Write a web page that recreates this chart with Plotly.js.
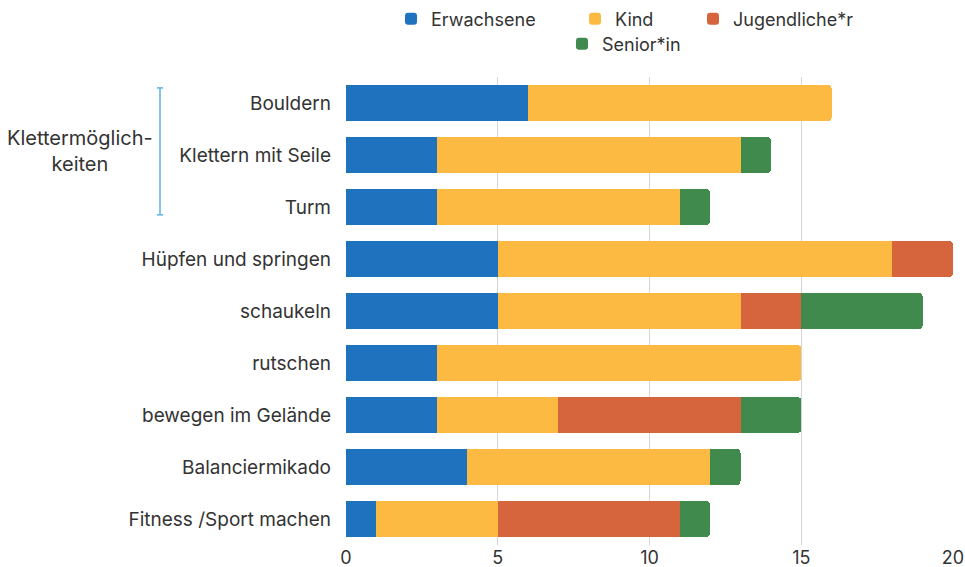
<!DOCTYPE html>
<html>
<head>
<meta charset="utf-8">
<script src="https://cdn.plot.ly/plotly-3.0.1.min.js"></script>
<style>html,body{margin:0;padding:0;background:#fff;}#chart{width:965px;height:567px;}</style>
</head>
<body>
<div id="chart"></div>
<script>
const categories = ["Bouldern", "Klettern mit Seile", "Turm", "Hüpfen und springen", "schaukeln", "rutschen", "bewegen im Gelände", "Balanciermikado", "Fitness /Sport machen"];
const erwachsene = [6, 3, 3, 5, 5, 3, 3, 4, 1];
const kind = [10, 10, 8, 13, 8, 12, 4, 8, 4];
const jugendliche = [0, 0, 0, 2, 2, 0, 6, 0, 6];
const senioren = [0, 1, 1, 0, 4, 0, 2, 1, 1];
const seriesNames = ["Erwachsene", "Kind", "Jugendliche*r", "Senior*in"];
const seriesColors = ["#1f73be", "#fdba42", "#d6643d", "#3f8a4c"];
const xTicks = [0, 5, 10, 15, 20];
const groupLabel = "Klettermöglich-<br>keiten";

const values = [erwachsene, kind, jugendliche, senioren];
const legendIds = ["legend", "legend2", "legend3", "legend4"];
const traces = values.map((v, i) => ({
  type: "bar",
  orientation: "h",
  name: seriesNames[i],
  x: v,
  y: categories,
  marker: {color: seriesColors[i], line: {width: 0}},
  legend: legendIds[i],
  hoverinfo: "x+name"
}));

const fam = "Inter, 'Noto Sans', sans-serif";
const font = {family: fam, size: 18, color: "#333"};
function leg(px, py) {
  return {xref: "container", yref: "container", x: px / 965, y: 1 - py / 567,
          xanchor: "left", yanchor: "middle", orientation: "h",
          bgcolor: "rgba(0,0,0,0)", font: {family: fam, size: 18, color: "#333"}, traceorder: "normal"};
}

const layout = {
  width: 965, height: 567,
  margin: {l: 346, r: 12, t: 77, b: 22, autoexpand: false},
  paper_bgcolor: "#fff", plot_bgcolor: "#fff",
  font: font,
  barmode: "stack",
  bargap: 0.31,
  barcornerradius: 4,
  xaxis: {range: [0, 20], tickvals: xTicks, showgrid: true, gridcolor: "#d6d6d6", gridwidth: 1,
          zeroline: false, showline: false, ticks: "", ticklabelstandoff: 0, automargin: false,
          tickfont: {family: fam, size: 18, color: "#333"}, fixedrange: true},
  yaxis: {autorange: "reversed", showgrid: false, zeroline: false, showline: false, ticks: "",
          ticklabelstandoff: 14, automargin: false,
          tickfont: {family: fam, size: 19, color: "#333"}},
  showlegend: true,
  legend: leg(391, 19),
  legend2: leg(575, 19),
  legend3: leg(693, 19),
  legend4: leg(562, 44),
  shapes: [
    {type: "line", xref: "paper", yref: "y", x0: (160 - 346) / 607, x1: (160 - 346) / 607, y0: -0.29, y1: 2.15,
     line: {color: "#5ab6e0", width: 1.5}},
    {type: "line", xref: "paper", yref: "y", x0: (157 - 346) / 607, x1: (163 - 346) / 607, y0: -0.29, y1: -0.29,
     line: {color: "#5ab6e0", width: 1.5}},
    {type: "line", xref: "paper", yref: "y", x0: (157 - 346) / 607, x1: (163 - 346) / 607, y0: 2.15, y1: 2.15,
     line: {color: "#5ab6e0", width: 1.5}}
  ],
  annotations: [
    {xref: "paper", yref: "y", x: (80 - 346) / 607, y: 0.92, text: groupLabel, showarrow: false,
     xanchor: "center", yanchor: "middle", align: "center",
     font: {family: fam, size: 20, color: "#333"}}
  ]
};

Plotly.newPlot("chart", traces, layout, {displayModeBar: false, staticPlot: true});
</script>
</body>
</html>
